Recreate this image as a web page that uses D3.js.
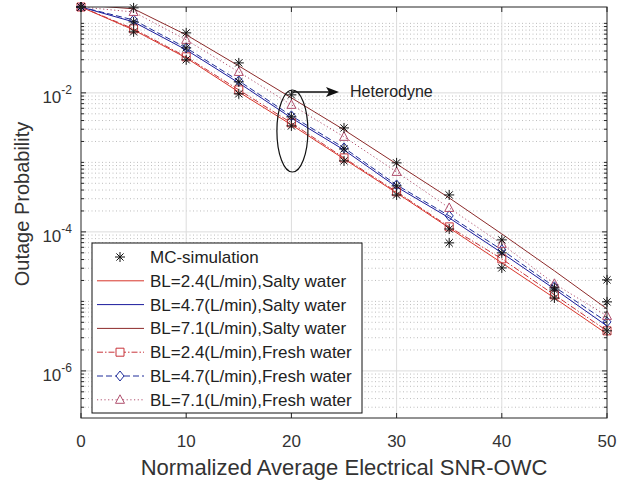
<!DOCTYPE html>
<html>
<head>
<meta charset="UTF-8">
<script src="https://d3js.org/d3.v7.min.js"></script>
<style>
  body { margin: 0; background: #fff; }
  svg { font-family: "Liberation Sans", Arial, sans-serif; }
</style>
</head>
<body>
<svg id="chart" width="633" height="481"></svg>
<script>
// x values (SNR)
const snr = [0, 5, 10, 15, 20, 25, 30, 35, 40, 45, 50];

// analytical curves, salty water
const salty24 = [0.172, 0.0805, 0.0319, 0.0103, 3.47e-3, 1.12e-3, 3.64e-4, 1.14e-4, 3.58e-5, 1.12e-5, 3.4e-6];
const salty47 = [0.172, 0.105, 0.0416, 0.0139, 4.36e-3, 1.51e-3, 4.44e-4, 1.59e-4, 4.99e-5, 1.51e-5, 4.43e-6];
const salty71 = [0.185, 0.162, 0.0684, 0.0244, 8.48e-3, 2.94e-3, 9.5e-4, 3.08e-4, 9.35e-5, 2.75e-5, 7.8e-6];

// fresh water
const fresh24 = [0.172, 0.0834, 0.0330, 0.01104, 3.70e-3, 1.16e-3, 3.77e-4, 1.18e-4, 4.09e-5, 1.24e-5, 3.77e-6];
const fresh47 = [0.172, 0.112, 0.0444, 0.0149, 4.67e-3, 1.62e-3, 4.74e-4, 1.70e-4, 5.51e-5, 1.62e-5, 5.07e-6];
const fresh71 = [0.172, 0.146, 0.0579, 0.0200, 6.72e-3, 2.33e-3, 7.29e-4, 2.21e-4, 6.71e-5, 1.79e-5, 6.18e-6];

// MC simulation points
const mc24 = [0.172, 0.0755, 0.0299, 9.68e-3, 3.35e-3, 1.05e-3, 3.40e-4, 1.10e-4, 3.03e-5, 1.12e-5, 3.77e-6];
const mc47 = [0.172, 0.105, 0.0444, 0.0144, 4.52e-3, 1.56e-3, 4.59e-4, 6.95e-5, 4.99e-5, 1.46e-5, 9.84e-6];
const mc71 = [0.172, 0.167, 0.0730, 0.0270, 9.36e-3, 3.13e-3, 9.84e-4, 3.40e-4, 7.67e-5, 1.56e-5, 2.04e-5];

const xTicks = [0, 10, 20, 30, 40, 50];
const yTicks = [1e-6, 1e-4, 1e-2];
const yTickExp = ["-6", "-4", "-2"];

const legendLabels = [
  "MC-simulation",
  "BL=2.4(L/min),Salty water",
  "BL=4.7(L/min),Salty water",
  "BL=7.1(L/min),Salty water",
  "BL=2.4(L/min),Fresh water",
  "BL=4.7(L/min),Fresh water",
  "BL=7.1(L/min),Fresh water"
];

const svg = d3.select("#chart");
const L = 81, R = 607, T = 7, B = 418;

const x = d3.scaleLinear().domain([0, 50]).range([L, R]);
const y = d3.scaleLog().domain([2.1e-7, 0.172]).range([B, T]);

// minor grid values
const minorY = [];
for (let e = -7; e <= -1; e++) {
  for (let m = 1; m <= 9; m++) {
    const v = m * Math.pow(10, e);
    if (v >= y.domain()[0] && v <= y.domain()[1] && !yTicks.includes(v)) minorY.push(v);
  }
}

const grid = svg.append("g");
grid.selectAll("line.minor").data(minorY).enter().append("line")
  .attr("x1", L).attr("x2", R)
  .attr("y1", d => y(d)).attr("y2", d => y(d))
  .attr("stroke", "#bdbdbd").attr("stroke-width", 1)
  .attr("stroke-dasharray", "1,2.5");
grid.selectAll("line.mx").data(xTicks.slice(1, -1)).enter().append("line")
  .attr("x1", d => x(d)).attr("x2", d => x(d))
  .attr("y1", T).attr("y2", B)
  .attr("stroke", "#dcdcdc");
grid.selectAll("line.my").data(yTicks).enter().append("line")
  .attr("x1", L).attr("x2", R)
  .attr("y1", d => y(d)).attr("y2", d => y(d))
  .attr("stroke", "#dcdcdc");

// clip
svg.append("clipPath").attr("id", "clip")
  .append("rect").attr("x", L).attr("y", T).attr("width", R - L).attr("height", B - T);

const plot = svg.append("g").attr("clip-path", "url(#clip)");
const line = d3.line().x((d, i) => x(snr[i])).y(d => y(d));

const series = [
  { data: salty24, color: "#d8352a", dash: null },
  { data: salty47, color: "#1a1a9c", dash: null },
  { data: salty71, color: "#8c2a2a", dash: null },
  { data: fresh24, color: "#c8343a", dash: "6,2,1.5,2", marker: "square" },
  { data: fresh47, color: "#1f2d9a", dash: "6,3", marker: "diamond" },
  { data: fresh71, color: "#b0506e", dash: "1.2,2.5", marker: "triangle" }
];

series.forEach(s => {
  plot.append("path").attr("d", line(s.data))
    .attr("fill", "none").attr("stroke", s.color).attr("stroke-width", 1)
    .attr("stroke-dasharray", s.dash);
});

function markerPath(type) {
  if (type === "square") return "M-4,-4H4V4H-4Z";
  if (type === "diamond") return "M0,-5L4,0L0,5L-4,0Z";
  if (type === "triangle") return "M0,-5L4.5,3.5H-4.5Z";
  return "M-5,0H5M0,-5V5M-3.6,-3.6L3.6,3.6M-3.6,3.6L3.6,-3.6";
}

series.filter(s => s.marker).forEach(s => {
  svg.append("g").selectAll("path").data(s.data).enter().append("path")
    .attr("d", markerPath(s.marker))
    .attr("transform", (d, i) => `translate(${x(snr[i])},${Math.max(y(d), T)})`)
    .attr("fill", "none").attr("stroke", s.color).attr("stroke-width", 1);
});

[mc24, mc47, mc71].forEach(arr => {
  svg.append("g").selectAll("path").data(arr).enter().append("path")
    .attr("d", markerPath("star"))
    .attr("transform", (d, i) => `translate(${x(snr[i])},${Math.max(y(d), T)})`)
    .attr("fill", "none").attr("stroke", "#111").attr("stroke-width", 1);
});

// axes box and ticks
const axisColor = "#262626";
svg.append("rect").attr("x", L).attr("y", T).attr("width", R - L).attr("height", B - T)
  .attr("fill", "none").attr("stroke", axisColor).attr("stroke-width", 1);

const ticks = svg.append("g").attr("stroke", axisColor);
xTicks.forEach(t => {
  ticks.append("line").attr("x1", x(t)).attr("x2", x(t)).attr("y1", B).attr("y2", B - 5);
  ticks.append("line").attr("x1", x(t)).attr("x2", x(t)).attr("y1", T).attr("y2", T + 5);
});
yTicks.forEach(t => {
  ticks.append("line").attr("x1", L).attr("x2", L + 5).attr("y1", y(t)).attr("y2", y(t));
  ticks.append("line").attr("x1", R).attr("x2", R - 5).attr("y1", y(t)).attr("y2", y(t));
});
minorY.forEach(t => {
  ticks.append("line").attr("x1", L).attr("x2", L + 3).attr("y1", y(t)).attr("y2", y(t));
  ticks.append("line").attr("x1", R).attr("x2", R - 3).attr("y1", y(t)).attr("y2", y(t));
});

// tick labels
svg.append("g").selectAll("text").data(xTicks).enter().append("text")
  .attr("x", d => x(d)).attr("y", 447)
  .attr("text-anchor", "middle").attr("font-size", 17).attr("fill", "#333")
  .text(d => d);

const yl = svg.append("g").selectAll("text").data(yTicks).enter().append("text")
  .attr("x", 72).attr("y", d => y(d) + 10)
  .attr("text-anchor", "end").attr("font-size", 17).attr("fill", "#333");
yl.append("tspan").text("10");
yl.append("tspan").attr("dy", -9).attr("font-size", 12).text((d, i) => yTickExp[i]);

// axis titles
svg.append("text").attr("x", x(25)).attr("y", 475)
  .attr("text-anchor", "middle").attr("font-size", 22).attr("fill", "#333")
  .text("Normalized Average Electrical SNR-OWC");
svg.append("text").attr("transform", "translate(29,204) rotate(-90)")
  .attr("text-anchor", "middle").attr("font-size", 20).attr("fill", "#333")
  .text("Outage Probability");

// heterodyne annotation
svg.append("ellipse").attr("cx", x(20) + 1).attr("cy", 131).attr("rx", 15.5).attr("ry", 41)
  .attr("fill", "none").attr("stroke", "#111").attr("stroke-width", 1.2);
svg.append("line").attr("x1", x(20)).attr("x2", 330).attr("y1", 92).attr("y2", 92)
  .attr("stroke", "#111").attr("stroke-width", 1.5);
svg.append("path").attr("d", "M326,87L339,92L326,97L329,92Z").attr("fill", "#111");
svg.append("text").attr("x", 350).attr("y", 97).attr("font-size", 16).attr("fill", "#222")
  .text("Heterodyne");

// legend
const lg = svg.append("g");
lg.append("rect").attr("x", 92).attr("y", 243).attr("width", 270).attr("height", 170)
  .attr("fill", "#fff").attr("stroke", "#111").attr("stroke-width", 1);
const legendItems = [{ marker: "star", color: "#111" }].concat(series);
legendItems.forEach((s, i) => {
  const ry = 257 + i * 23.8;
  if (i > 0) {
    lg.append("line").attr("x1", 97).attr("x2", 144).attr("y1", ry).attr("y2", ry)
      .attr("stroke", s.color).attr("stroke-width", 1).attr("stroke-dasharray", s.dash);
  }
  if (s.marker) {
    lg.append("path").attr("d", markerPath(s.marker))
      .attr("transform", `translate(120,${ry})`)
      .attr("fill", s.marker === "star" ? "none" : "#fff")
      .attr("stroke", s.color).attr("stroke-width", 1);
  }
  lg.append("text").attr("x", 150).attr("y", ry + 6).attr("font-size", 17).attr("fill", "#222")
    .text(legendLabels[i]);
});
</script>
</body>
</html>
